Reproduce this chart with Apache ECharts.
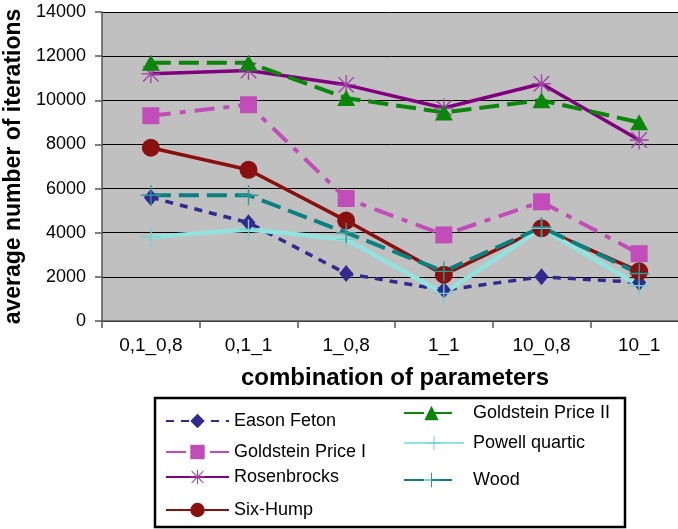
<!DOCTYPE html>
<html>
<head>
<meta charset="utf-8">
<script src="https://cdn.jsdelivr.net/npm/echarts@6/dist/echarts.min.js"></script>
<style>
  html, body { margin: 0; padding: 0; background: #fff; }
  #chart { width: 678px; height: 529px; }
</style>
</head>
<body>
<div id="chart"></div>
<script>
// Parameter combinations on the x axis
const categories = ['0,1_0,8', '0,1_1', '1_0,8', '1_1', '10_0,8', '10_1'];

// Average number of iterations per test function
const easonFeton      = [5600, 4450, 2150, 1400, 2000, 1750];
const goldsteinPriceI = [9300, 9800, 5550, 3900, 5400, 3050];
const rosenbrocks     = [11200, 11350, 10700, 9650, 10750, 8200];
const sixHump         = [7850, 6850, 4550, 2100, 4200, 2250];
const goldsteinPriceII= [11700, 11700, 10100, 9450, 10000, 9000];
const powellQuartic   = [3800, 4150, 3700, 1250, 4200, 1600];
const wood            = [5700, 5700, 4000, 2250, 4250, 2150];

const yTicks = [0, 2000, 4000, 6000, 8000, 10000, 12000, 14000];

const FONT = 'Liberation Sans, Arial, sans-serif';

// Thin-stroke marker shapes built from filled bars
const plusPath = 'path://M9.3,0h1.4v20h-1.4z M0,9.3h20v1.4h-20z';
const starPath = 'path://M9.3,0h1.4v20h-1.4z M0,9.3h20v1.4h-20z ' +
  'M2.4,1.4l16.2,16.2l-1,1l-16.2,-16.2z M17.6,1.4l1,1l-16.2,16.2l-1,-1z';

function lineSeries(name, data, color, opts) {
  return Object.assign({
    name: name,
    type: 'line',
    data: data,
    symbolKeepAspect: true,
    lineStyle: { color: color, width: 3.5 },
    itemStyle: { color: color },
    emphasis: { disabled: true },
    animation: false
  }, opts);
}

const series = [
  lineSeries('Eason Feton', easonFeton, '#33298f', {
    symbol: 'diamond', symbolSize: [14, 17],
    lineStyle: { color: '#33298f', width: 3.5, type: [8, 7] }
  }),
  lineSeries('Goldstein Price I', goldsteinPriceI, '#c24db9', {
    symbol: 'rect', symbolSize: 17,
    lineStyle: { color: '#c24db9', width: 4, type: [20, 9, 6, 9] }
  }),
  lineSeries('Rosenbrocks', rosenbrocks, '#800080', {
    symbol: starPath, symbolSize: 19,
    itemStyle: { color: '#a040a8' },
    lineStyle: { color: '#800080', width: 3.5 }
  }),
  lineSeries('Six-Hump', sixHump, '#8a0f0f', {
    symbol: 'circle', symbolSize: 18,
    lineStyle: { color: '#8a0f0f', width: 3.5 }
  }),
  lineSeries('Goldstein Price II', goldsteinPriceII, '#0a870a', {
    symbol: 'triangle', symbolSize: [18, 16],
    lineStyle: { color: '#0a870a', width: 4, type: [20, 8] }
  }),
  lineSeries('Powell quartic', powellQuartic, '#92e2de', {
    symbol: plusPath, symbolSize: 20,
    itemStyle: { color: '#6fd0cc' },
    lineStyle: { color: '#92e2de', width: 4.5 }
  }),
  lineSeries('Wood', wood, '#0a8080', {
    symbol: plusPath, symbolSize: 20,
    itemStyle: { color: '#2a9a9a' },
    lineStyle: { color: '#0a8080', width: 4, type: [20, 8] }
  })
];

// Legend placement: [name, iconLeft, rowCenterY, iconWidth, textGap]
const legendSlots = [
  ['Eason Feton', 165, 421, 63, 5],
  ['Goldstein Price I', 165, 452, 63, 5],
  ['Rosenbrocks', 165, 477, 63, 5],
  ['Six-Hump', 165, 510, 63, 5],
  ['Goldstein Price II', 403, 413, 55, 14],
  ['Powell quartic', 403, 443, 60, 9],
  ['Wood', 403, 480, 55, 14]
];

const legends = legendSlots.map(([name, x, y, w, gap]) => ({
  data: [name],
  left: x,
  top: y - 9,
  itemWidth: w,
  itemHeight: 18,
  padding: 0,
  selectedMode: false,
  textStyle: { fontFamily: FONT, fontSize: 18, color: '#000', padding: [0, 0, 0, gap - 5] }
}));

const chart = echarts.init(document.getElementById('chart'), null, { renderer: 'canvas' });

chart.setOption({
  backgroundColor: '#ffffff',
  animation: false,
  grid: {
    left: 102, top: 12, width: 586, height: 309,
    outerBoundsMode: 'none',
    containLabel: false,
    show: true, backgroundColor: '#c0c0c0', borderWidth: 0
  },
  xAxis: {
    type: 'category',
    data: categories,
    boundaryGap: true,
    name: 'combination of parameters',
    nameLocation: 'middle',
    nameGap: 45,
    nameTextStyle: { fontFamily: FONT, fontSize: 24, fontWeight: 'bold', color: '#000' },
    axisLine: { lineStyle: { color: '#555', width: 1.5 } },
    axisTick: { show: true, length: 7, lineStyle: { color: '#555', width: 1.5 } },
    axisLabel: { fontFamily: FONT, fontSize: 19, color: '#000', margin: 15 }
  },
  yAxis: {
    type: 'value',
    min: 0, max: 14000, interval: 2000,
    name: 'average number of iterations',
    nameLocation: 'middle',
    nameGap: 75,
    nameTextStyle: { fontFamily: FONT, fontSize: 23, fontWeight: 'bold', color: '#000' },
    axisLine: { show: true, lineStyle: { color: '#555', width: 1.5 } },
    axisTick: { show: true, length: 7, lineStyle: { color: '#555', width: 1.5 } },
    axisLabel: {
      fontFamily: FONT, fontSize: 18, color: '#000', margin: 16,
      formatter: v => (yTicks.includes(v) ? String(v) : '')
    },
    splitLine: { show: true, lineStyle: { color: '#000', width: 1 } }
  },
  legend: legends,
  graphic: [{
    type: 'rect',
    shape: { x: 155, y: 398, width: 470, height: 129 },
    style: { fill: '#fff', stroke: '#000', lineWidth: 2.5 },
    z: -1
  }],
  series: series
});
</script>
</body>
</html>
